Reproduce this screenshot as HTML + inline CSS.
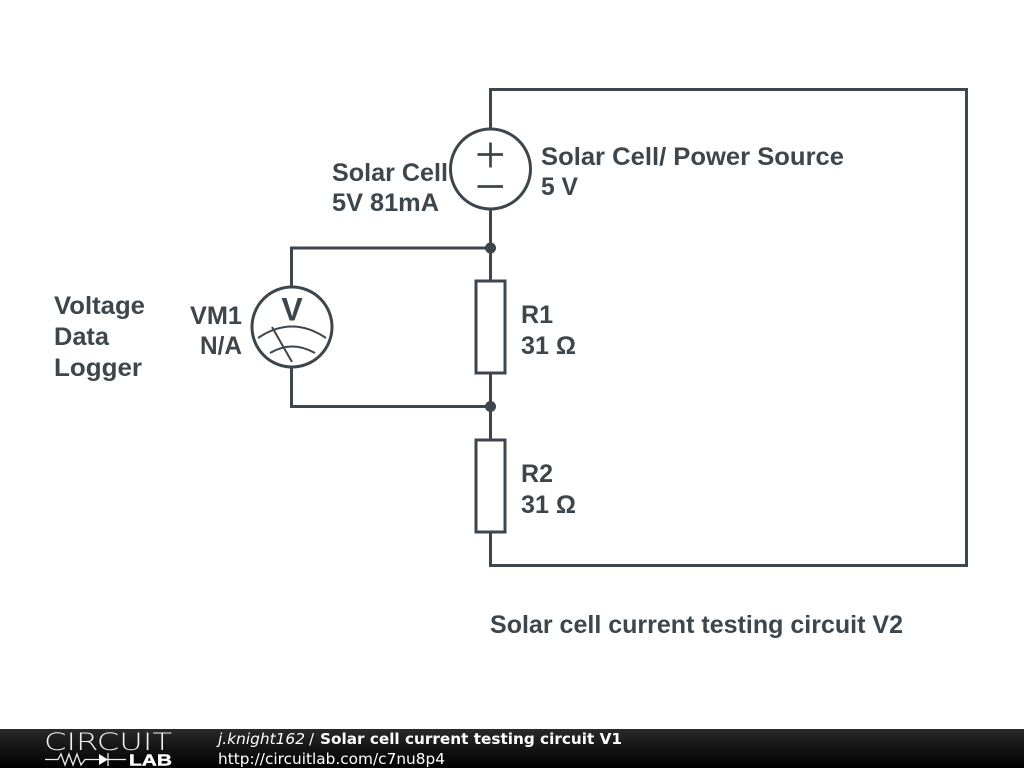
<!DOCTYPE html>
<html><head><meta charset="utf-8"><style>
html,body{margin:0;padding:0;background:#fff;width:1024px;height:768px;overflow:hidden}
svg{display:block}
.t{font-family:"Liberation Sans",Arial,sans-serif;font-weight:bold;font-size:25px;fill:#3d464c}
.f{font-family:"DejaVu Sans",sans-serif;font-size:15px;fill:#fff}
.b{filter:blur(0.35px)}
</style></head><body>
<svg width="1024" height="768" viewBox="0 0 1024 768" xmlns="http://www.w3.org/2000/svg">
<defs><linearGradient id="g" x1="0" y1="0" x2="0" y2="1"><stop offset="0" stop-color="#2a2a2a"/><stop offset="0.5" stop-color="#141414"/><stop offset="1" stop-color="#000"/></linearGradient></defs>
<rect width="1024" height="768" fill="#fff"/>
<g class="b">
<g fill="none" stroke="#3d464c" stroke-width="3">
<path d="M490.500 129V89.500H966.500V565.500H490.500V532"/>
<path d="M490.500 209V281M490.500 373V440"/>
<path d="M490.500 248H291.500V288M291.500 366V406.500H490.500"/>
<circle cx="490.500" cy="169" r="40"/>
<path d="M477.500 154.500H503M490.500 142.500V167.500M477.500 186.500H503" stroke-width="2.700"/>
<rect x="476" y="281" width="29" height="92"/>
<rect x="476" y="440" width="29" height="92"/>
<circle cx="292" cy="327" r="40"/>
<path d="M258 338Q292 315 326 338M270 353Q292 340 315 353" stroke-width="2"/>
<path d="M272 327L292 362" stroke-width="2"/>
</g>
<circle cx="490.500" cy="248" r="5.500" fill="#3d464c"/>
<circle cx="490.500" cy="406.500" r="5.500" fill="#3d464c"/>
<text class="t" x="292" y="320.500" text-anchor="middle" style="font-size:32px">V</text>
<text class="t" x="332" y="181" textLength="116" lengthAdjust="spacingAndGlyphs">Solar Cell</text>
<text class="t" x="332" y="211" textLength="107" lengthAdjust="spacingAndGlyphs">5V 81mA</text>
<text class="t" x="541" y="165" textLength="303" lengthAdjust="spacingAndGlyphs">Solar Cell/ Power Source</text>
<text class="t" x="541" y="195" textLength="37" lengthAdjust="spacingAndGlyphs">5 V</text>
<text class="t" x="54" y="314" textLength="91" lengthAdjust="spacingAndGlyphs">Voltage</text>
<text class="t" x="54" y="345" textLength="55" lengthAdjust="spacingAndGlyphs">Data</text>
<text class="t" x="54" y="376" textLength="88" lengthAdjust="spacingAndGlyphs">Logger</text>
<text class="t" x="190" y="324" textLength="52" lengthAdjust="spacingAndGlyphs">VM1</text>
<text class="t" x="200" y="354" textLength="42" lengthAdjust="spacingAndGlyphs">N/A</text>
<text class="t" x="521" y="323" textLength="32" lengthAdjust="spacingAndGlyphs">R1</text>
<text class="t" x="521" y="354" textLength="55" lengthAdjust="spacingAndGlyphs">31 Ω</text>
<text class="t" x="521" y="482" textLength="32" lengthAdjust="spacingAndGlyphs">R2</text>
<text class="t" x="521" y="513" textLength="55" lengthAdjust="spacingAndGlyphs">31 Ω</text>
<text class="t" x="490" y="633" textLength="413" lengthAdjust="spacingAndGlyphs">Solar cell current testing circuit V2</text>
</g>
<rect y="729" width="1024" height="39" fill="url(#g)"/>
<g class="b">
<text x="44" y="750" font-family="DejaVu Sans,sans-serif" font-size="24" fill="#f2f2f2" textLength="128" lengthAdjust="spacingAndGlyphs" style="font-weight:200">CIRCUIT</text>
<path d="M45 759.500H58L61 754L65 765L69 754L73 765L77 754L81 765L85 759.500H99M108 753V766M108 759.500H126" fill="none" stroke="#eee" stroke-width="1.300"/>
<path d="M99 754V765L108 759.500Z" fill="#fff"/>
<text x="129" y="765.500" font-family="Liberation Sans,sans-serif" font-size="15.500" font-weight="bold" fill="#fff" stroke="#fff" stroke-width="0.400" textLength="43" lengthAdjust="spacingAndGlyphs">LAB</text>
<text class="f" x="218" y="744" style="font-style:oblique" textLength="87" lengthAdjust="spacingAndGlyphs">j.knight162</text>
<text class="f" x="309" y="744">/</text>
<text class="f" x="320" y="744" style="font-weight:bold" textLength="302" lengthAdjust="spacingAndGlyphs">Solar cell current testing circuit V1</text>
<text class="f" x="218" y="764" textLength="227" lengthAdjust="spacingAndGlyphs">http://circuitlab.com/c7nu8p4</text>
</g>
</svg>
</body></html>
